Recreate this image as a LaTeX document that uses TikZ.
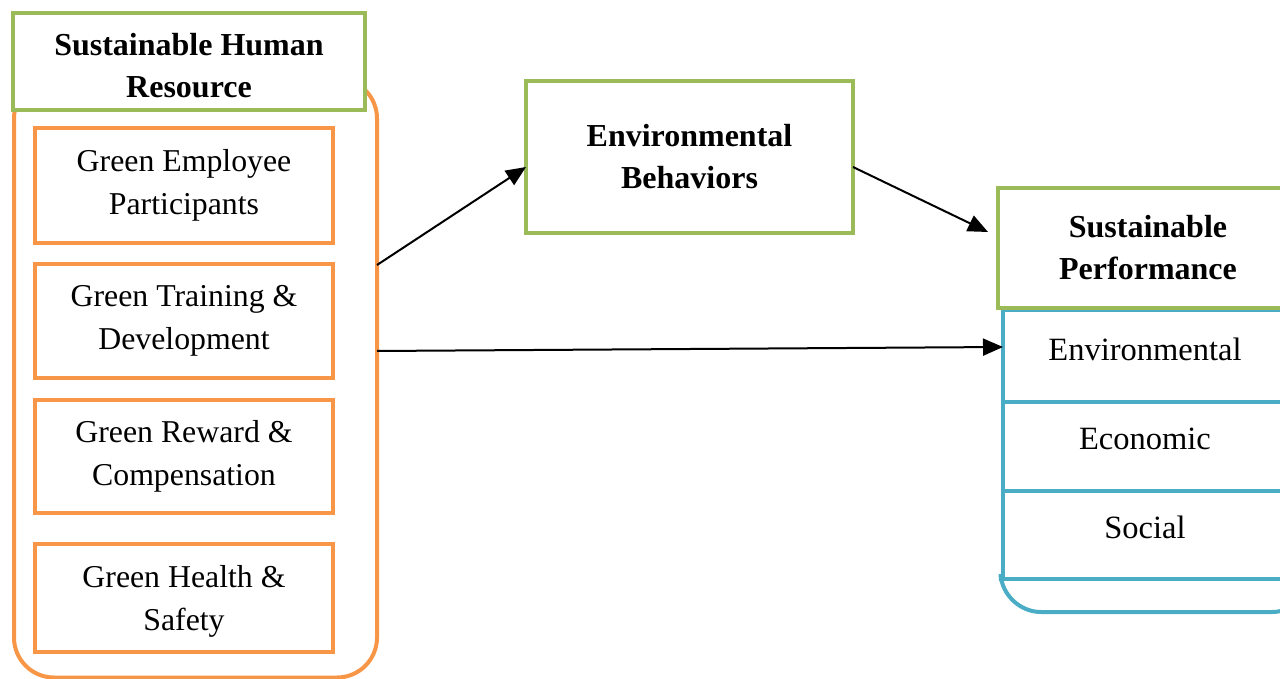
\documentclass[tikz,border=0pt]{standalone}
\usepackage{fontspec}
\setmainfont{Liberation Serif}
\usetikzlibrary{arrows.meta,calc}
\definecolor{gr}{HTML}{9BBB59}
\definecolor{og}{HTML}{F79646}
\definecolor{bl}{HTML}{4BACC6}
\begin{document}
\begin{tikzpicture}[x=1pt,y=-1pt,
  hdr/.style={draw=gr,line width=4pt,fill=white,align=center,inner sep=0pt,font=\fontsize{32}{42}\selectfont\bfseries},
  hdrtxt/.style={align=center,inner sep=0pt,font=\fontsize{32}{42}\selectfont\bfseries},
  item/.style={draw=og,line width=4pt,fill=white,align=center,inner sep=0pt,font=\fontsize{31.8}{43}\selectfont},
  itemtxt/.style={align=center,inner sep=0pt,font=\fontsize{31.8}{43}\selectfont},
  cell/.style={draw=bl,line width=4pt,inner sep=0pt},
  celltxt/.style={font=\fontsize{32.5}{40}\selectfont,inner sep=0pt},
  conn/.style={line width=2pt,-{Triangle[length=20pt,width=17pt]}}]
\useasboundingbox (0,0) rectangle (1280,679);
\clip (0,0) rectangle (1280,679);
% left container
\node[draw=og,line width=4pt,rounded corners=40pt,minimum width=363pt,minimum height=599pt,inner sep=0pt] (shrbox) at (195.5,378) {};
\node[hdr,minimum width=352pt,minimum height=97pt] (shr) at (189,61.5) {};
\node[hdrtxt] at ([yshift=-4pt]shr.center) {Sustainable Human\\Resource};
\node[item,minimum width=298pt,minimum height=115pt] (gep) at (184,185.5) {Green Employee\\Participants};
\node[item,minimum width=298pt,minimum height=114pt] (gtd) at (184,321) {Green Training \&\\Development};
\node[item,minimum width=298pt,minimum height=113pt] (grc) at (184,456.5) {Green Reward \&\\Compensation};
\node[item,minimum width=298pt,minimum height=108pt] (ghs) at (184,598) {};
\node[itemtxt] at ([yshift=-3pt]ghs.center) {Green Health \&\\Safety};
% environmental behaviors
\node[hdr,minimum width=327pt,minimum height=152pt] (eb) at (689.5,157) {Environmental\\Behaviors};
% right container
\node[cell,minimum width=300pt,minimum height=92pt] (env) at (1153,356) {};
\node[cell,minimum width=300pt,minimum height=89pt] (eco) at (1153,446.5) {};
\node[cell,minimum width=300pt,minimum height=88pt] (soc) at (1153,535) {};
\draw[bl,line width=4pt,rounded corners=38pt] (soc.south west) -- (1003,612) -- (1310,612) -- (1310,579);
\node[celltxt] at ([xshift=-8pt,yshift=7pt]env.center) {Environmental};
\node[celltxt] at ([xshift=-8pt,yshift=8pt]eco.center) {Economic};
\node[celltxt] at ([xshift=-8pt,yshift=8pt]soc.center) {Social};
\node[hdr,minimum width=300pt,minimum height=120pt] (sp) at (1148,248) {Sustainable\\Performance};
% connectors
\coordinate (a1s) at (377,265);
\coordinate (a1e) at (526,167);
\coordinate (a2s) at (853,167);
\coordinate (a2e) at (988,232);
\coordinate (a3s) at (377,351);
\coordinate (a3e) at (1003,347);
\draw[conn] (a1s) -- (a1e);
\draw[conn] (a2s) -- (a2e);
\draw[conn] (a3s) -- (a3e);
\end{tikzpicture}
\end{document}
